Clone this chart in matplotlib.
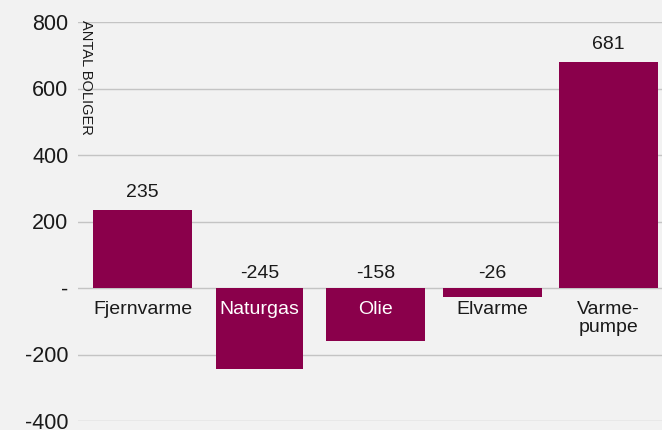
import matplotlib
matplotlib.use("Agg")
import matplotlib.pyplot as plt

categories = ["Fjernvarme", "Naturgas", "Olie", "Elvarme", "Varme-\npumpe"]
values = [235, -245, -158, -26, 681]
yticks = [-400, -200, 0, 200, 400, 600, 800]
ytick_labels = ["-400", "-200", "-", "200", "400", "600", "800"]

plt.rcParams["font.family"] = ["Liberation Sans", "DejaVu Sans"]

bg = "#f2f2f2"
bar_color = "#8a004b"
text_color = "#1a1a1a"

fig = plt.figure(figsize=(6.62, 4.30), dpi=100, facecolor=bg)
ax = fig.add_axes([78 / 662, 9 / 430, 1 - 78 / 662, 399 / 430])
ax.set_facecolor(bg)

x = list(range(len(categories)))
widths = [0.85, 0.75, 0.85, 0.85, 0.85]
ax.bar(x, values, width=widths, color=bar_color, zorder=3)

ax.set_xlim(-0.556, 4.457)
ax.set_ylim(-400, 800)
ax.set_yticks(yticks)
ax.set_yticklabels(ytick_labels, fontsize=15.5, color=text_color)
ax.set_xticks([])
ax.tick_params(axis="y", length=0, pad=7)
ax.grid(axis="y", color="#c4c4c4", linewidth=1.0, zorder=0)
for s in ax.spines.values():
    s.set_visible(False)

for xi, v, lab in zip(x, values, categories):
    # value label above the bar (or above the zero line for negative bars)
    if v > 0:
        ax.annotate(str(v), (xi, v), xytext=(0, 9), textcoords="offset points",
                    ha="center", va="baseline", fontsize=14, color=text_color)
    else:
        ax.annotate(str(v), (xi, 0), xytext=(0, 7), textcoords="offset points",
                    ha="center", va="baseline", fontsize=14, color=text_color)
    # category label below the zero line; white where it sits on a bar
    inside = v < -60
    ax.annotate(lab, (xi, 0), xytext=(0, -9.5), textcoords="offset points",
                ha="center", va="top", fontsize=14, linespacing=1.1,
                color="white" if inside else text_color, zorder=4)

fig.text(79 / 662, 1 - 20 / 430, "ANTAL BOLIGER", rotation=270,
         ha="left", va="top", fontsize=10.5, color=text_color)

fig.savefig("out.png", dpi=100, facecolor=bg)
